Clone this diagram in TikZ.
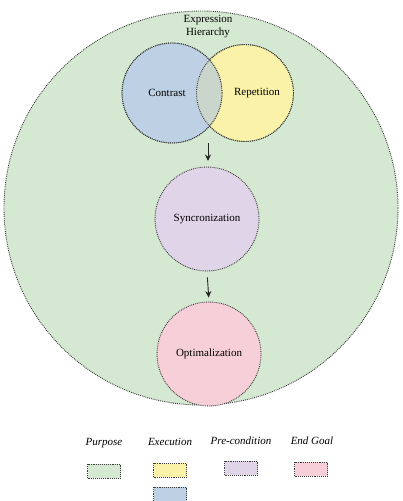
\documentclass[tikz,border=0pt]{standalone}
\usepackage{fontspec}
\setmainfont{Liberation Serif}
\usetikzlibrary{positioning}
\usetikzlibrary{arrows.meta}
\definecolor{purposegreen}{RGB}{213,232,210}
\definecolor{execyellow}{RGB}{249,242,168}
\definecolor{execblue}{RGB}{190,208,228}
\definecolor{overlapgray}{RGB}{202,214,204}
\definecolor{previolet}{RGB}{224,212,232}
\definecolor{goalpink}{RGB}{247,207,216}
\definecolor{dotgray}{RGB}{60,60,60}

\begin{document}
\begin{tikzpicture}[
            x = 1pt, y = -1pt, % pixel like units
            > = {Stealth[length=6.5pt, width=6pt]}, % arrow head style
            font = \fontsize{11}{13}\selectfont
        ]

        \tikzstyle{stage}=[
            circle,
            draw = dotgray,
            densely dotted,
            line width = 0.9pt,
            inner sep = 0pt
        ]
        \tikzstyle{key}=[
            draw = dotgray,
            densely dotted,
            line width = 0.9pt,
            minimum width = 33pt,
            minimum height = 14pt,
            inner sep = 0pt
        ]
        \tikzstyle{flow}=[
            ->,
            draw = black!85,
            line width = 0.9pt
        ]

        \useasboundingbox (0,0) rectangle (402,501);

	% purpose level
        \node[stage, fill = purposegreen, minimum size = 394pt] (P) at (201,208) {};
        \node[align = center] (PT) at (208,27) {Expression\\Hierarchy};

        % execution
        \node[stage, fill = execyellow, minimum size = 97pt] (R) at (245,93) {};
        \node[stage, fill = execblue, minimum size = 100pt] (C) at (172,93) {};
        \begin{scope}
            \clip (C.center) circle (50pt);
            \fill[overlapgray] (R.center) circle (48.5pt);
        \end{scope}
        \draw[dotgray, densely dotted, line width = 0.9pt] (C.center) circle (50pt);
        \draw[dotgray, densely dotted, line width = 0.9pt] (R.center) circle (48.5pt);
        \node (CT) at (167,93) {Contrast};
        \node (RT) at (257,93) {Repetition};

        % pre-condition and end goal
        \node[stage, fill = previolet, minimum size = 104pt] (S) at (207,219) {Syncronization};
        \node[stage, fill = goalpink, minimum size = 104pt] (O) at (209,354) {Optimalization};

        \coordinate (E) at (208,143);
        \draw[flow] (E) -- (208,161);
        \draw[flow, shorten < = 6pt, shorten > = 4pt] (S.south) -- (O.north);

        % legend
        \node[font = \fontsize{11}{13}\selectfont\itshape] (LP) at (104,443) {Purpose};
        \node[font = \fontsize{11}{13}\selectfont\itshape] (LE) at (170,442) {Execution};
        \node[font = \fontsize{11}{13}\selectfont\itshape] (LC) at (241,441) {Pre-condition};
        \node[font = \fontsize{11}{13}\selectfont\itshape] (LG) at (312,441) {End Goal};

        \node[key, fill = purposegreen] (KP) at (104,471) {};
        \node[key, fill = execyellow] (KE) at (170,470) {};
        \node[key, fill = execblue] (KB) at (170,494) {};
        \node[key, fill = previolet] (KC) at (241,468) {};
        \node[key, fill = goalpink] (KG) at (311,469) {};

  \end{tikzpicture}
\end{document}
